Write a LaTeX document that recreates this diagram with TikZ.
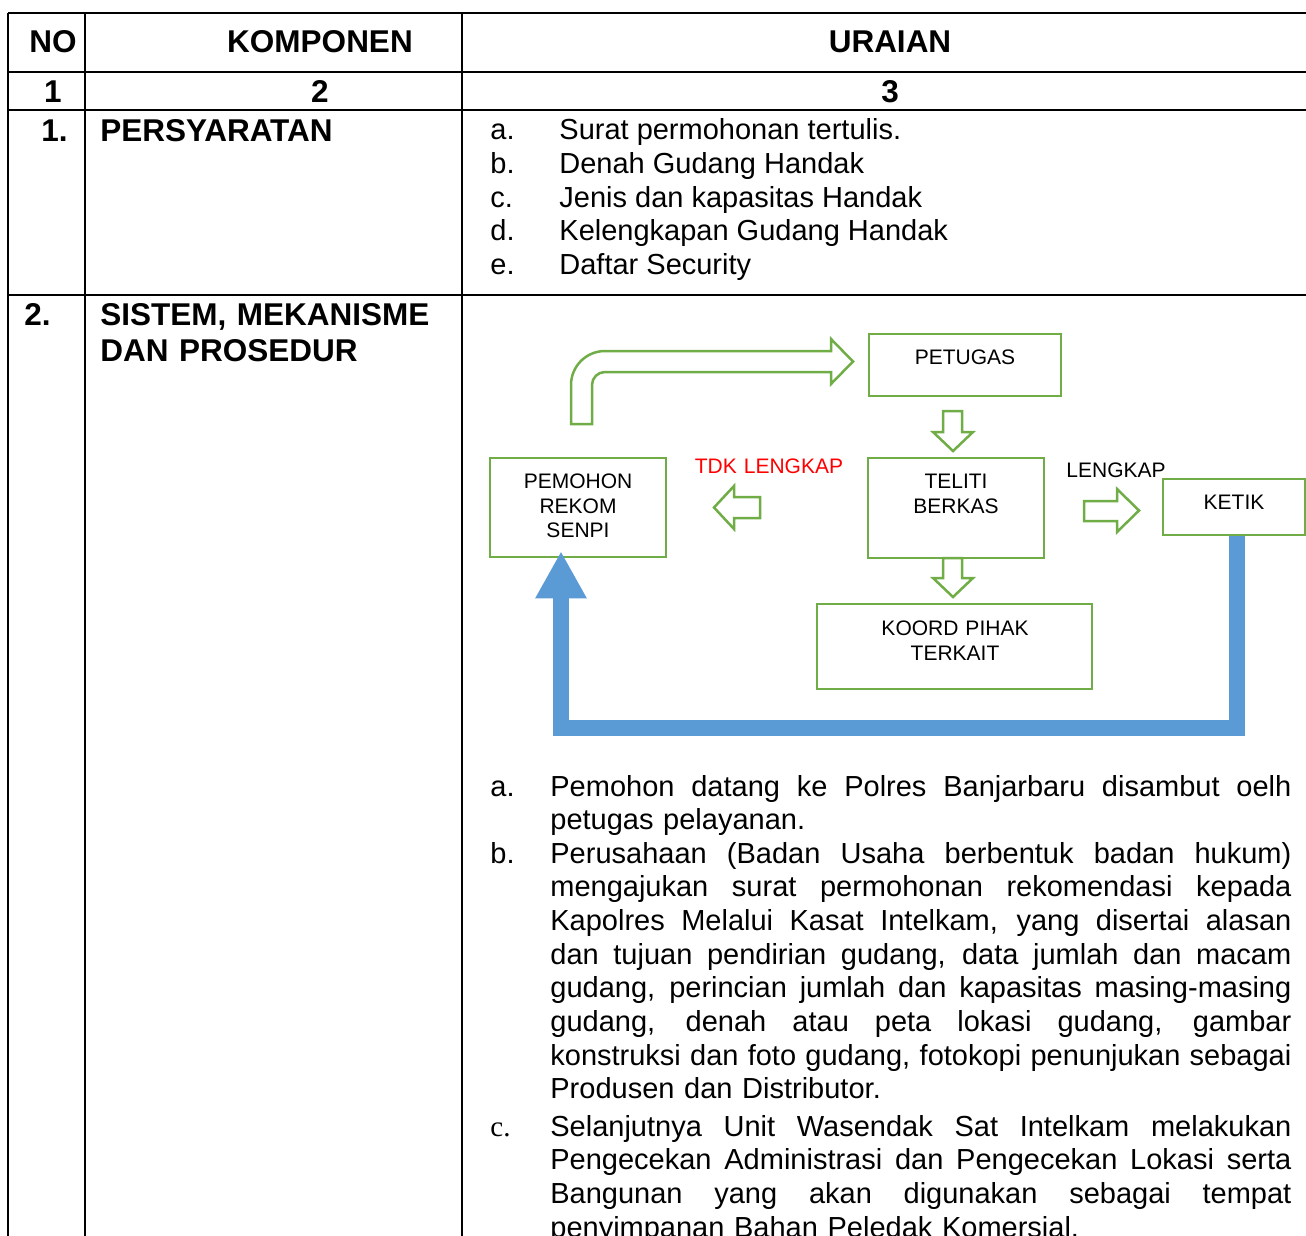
\documentclass[tikz,border=0pt]{standalone}
\usepackage{fontspec}
\setmainfont{Liberation Sans}
\newfontfamily\itemserif{Liberation Serif}
\usetikzlibrary{arrows.meta}
\definecolor{boxgreen}{HTML}{70AD47}
\definecolor{flowblue}{HTML}{5B9BD5}
\newcommand{\jl}[1]{\leavevmode\hbox to 370.5pt{\spaceskip=\fontdimen2\font plus 1fil\relax\xspaceskip=\spaceskip #1}}

\begin{document}
\begin{tikzpicture}[x=0.5pt, y=-0.5pt,
      rule/.style={line width=1.1pt},
      head/.style={font=\fontsize{15.75}{18}\selectfont\bfseries, inner sep=0, anchor=base},
      cell/.style={font=\fontsize{14.5}{16.85}\selectfont, inner sep=0, anchor=base west},
      para/.style={cell, text width=370.5pt, align=left},
      box/.style={draw=boxgreen, line width=1.25pt, fill=white, inner sep=0},
      boxtext/.style={font=\fontsize{10.5}{12.25}\selectfont, inner sep=0, anchor=base, align=center, text width=#1},
      boxtext/.default=90pt,
      blockarrow/.style={draw=boxgreen, line width=1.25pt, fill=white, line join=miter},
      backflow/.style={draw=flowblue, line width=8pt, -{Triangle[width=24pt,length=23.5pt]}}
      ]
      \useasboundingbox (0,0) rectangle (1306,1236);

      % table rules
      \foreach \yy in {13,72,110,295}
        \draw[rule] (8,\yy) -- (1306,\yy);
      \foreach \xx in {8,85,462}
        \draw[rule] (\xx,13) -- (\xx,1236);

      % header rows
      \node[head] (noHd) at (53,53) {NO};
      \node[head] (kompHd) at (320,53) {KOMPONEN};
      \node[head] (uraiHd) at (890,53) {URAIAN};
      \node[head] (col1) at (53,103) {1};
      \node[head] (col2) at (320,103) {2};
      \node[head] (col3) at (890,103) {3};

      % row 1
      \node[head, anchor=base west] (no1) at (41,141) {1.};
      \node[head, anchor=base west] (komp1) at (100,141) {PERSYARATAN};
      \foreach \lbl/\itm [count=\i] in {a./Surat permohonan tertulis., b./Denah Gudang Handak, c./Jenis dan kapasitas Handak, d./Kelengkapan Gudang Handak, e./Daftar Security} {
        \node[cell] (reqL\i) at (490,{139.5+33.8*(\i-1)}) {\lbl};
        \node[cell] (req\i) at (559,{139.5+33.8*(\i-1)}) {\itm};
      }

      % row 2
      \node[head, anchor=base west] (no2) at (24,325) {2.};
      \node[head, anchor=base west, text width=180pt, align=left] (komp2) at (100,325) {SISTEM, MEKANISME\\DAN PROSEDUR};

      % flow chart
      \draw[blockarrow] (571,424) -- (571,385) .. controls (571,366.2) and (586.2,351) .. (605,351)
        -- (831,351) -- (831,339) -- (853,361.5) -- (831,384) -- (831,372) -- (605,372)
        .. controls (597.8,372) and (592,377.8) .. (592,385) -- (592,424) -- cycle;

      \node[box, minimum width=96pt, minimum height=31pt] (petugas) at (965,365) {};
      \node[box, minimum width=88pt, minimum height=49.5pt] (pemohon) at (578,507.5) {};
      \node[box, minimum width=88pt, minimum height=50pt] (teliti) at (956,508) {};
      \node[box, minimum width=71pt, minimum height=28pt] (ketik) at (1234,507) {};
      \node[box, minimum width=137.5pt, minimum height=42.5pt] (koord) at (954.5,646.5) {};

      \node[boxtext=96pt] (petugasTx) at (965,364.5) {PETUGAS};
      \node[boxtext=88pt] (pemohonTx) at (578,488.5) {PEMOHON\\REKOM\\SENPI};
      \node[boxtext=88pt] (telitiTx) at (956,488.5) {TELITI\\BERKAS};
      \node[boxtext=71pt] (ketikTx) at (1234,509.5) {KETIK};
      \node[boxtext=137.5pt] (koordTx) at (955,635.5) {KOORD PIHAK\\TERKAIT};
      \node[boxtext=90pt, text=red] (tdk) at (769,473.5) {TDK LENGKAP};
      \node[boxtext=60pt] (lengkap) at (1116,477.5) {LENGKAP};

      % hollow block arrows
      \draw[blockarrow] (943,411) -- (962,411) -- (962,432) -- (973,432) -- (953,451) -- (933,432) -- (943,432) -- cycle;
      \draw[blockarrow] (760,497) -- (760,518) -- (734,518) -- (734,529) -- (714,507.5) -- (734,486) -- (734,497) -- cycle;
      \draw[blockarrow] (1084,501) -- (1117,501) -- (1117,489) -- (1139,510.5) -- (1117,532) -- (1117,521) -- (1084,521) -- cycle;
      \draw[blockarrow] (943,558) -- (962,558) -- (962,578) -- (973,578) -- (953,597) -- (933,578) -- (943,578) -- cycle;

      \draw[backflow] ([xshift=1.25pt]ketik.south) -- ++(0,192) -| ([xshift=-8.5pt,yshift=3.5pt]pemohon.south);

      % steps
      \node[cell] (stepLa) at (490,796) {a.};
      \node[para] (stepA) at (550,796) {\jl{Pemohon datang ke Polres Banjarbaru disambut oelh}\\petugas pelayanan.};
      \node[cell] (stepLb) at (490,863) {b.};
      \node[para] (stepB) at (550,863) {\jl{Perusahaan (Badan Usaha berbentuk badan hukum)}\\
        \jl{mengajukan surat permohonan rekomendasi kepada}\\
        \jl{Kapolres Melalui Kasat Intelkam, yang disertai alasan}\\
        \jl{dan tujuan pendirian gudang, data jumlah dan macam}\\
        \jl{gudang, perincian jumlah dan kapasitas masing-masing}\\
        \jl{gudang, denah atau peta lokasi gudang, gambar}\\
        \jl{konstruksi dan foto gudang, fotokopi penunjukan sebagai}\\
        Produsen dan Distributor.};
      \node[cell, font=\fontsize{14.5}{16.85}\selectfont\itemserif] (stepLc) at (490,1136) {c.};
      \node[para] (stepC) at (550,1136) {\jl{Selanjutnya Unit Wasendak Sat Intelkam melakukan}\\
        \jl{Pengecekan Administrasi dan Pengecekan Lokasi serta}\\
        \jl{Bangunan yang akan digunakan sebagai tempat}\\
        penyimpanan Bahan Peledak Komersial.};
    \end{tikzpicture}
\end{document}
